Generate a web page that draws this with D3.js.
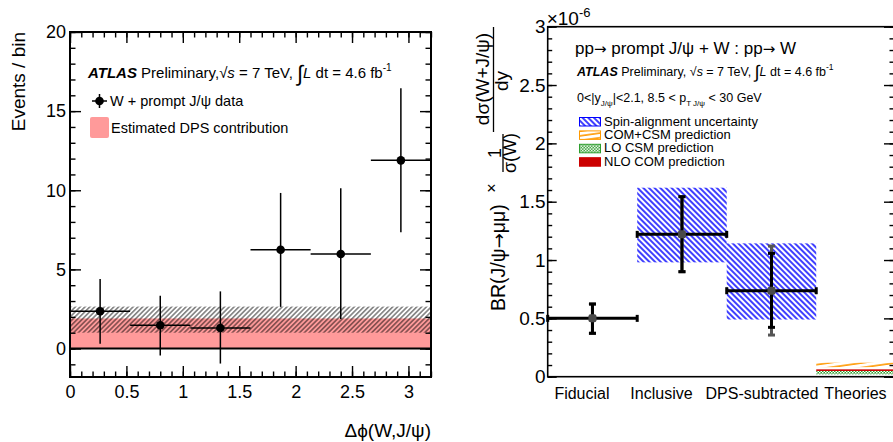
<!DOCTYPE html>
<html>
<head>
<meta charset="utf-8">
<script src="https://cdn.jsdelivr.net/npm/d3@7"></script>
<style>
  body { margin: 0; background: #fff; }
  text { font-family: "Liberation Sans", Arial, sans-serif; fill: #000; }
  .arr { font-family: "DejaVu Sans", sans-serif; }
</style>
</head>
<body>
<div id="chart"></div>
<script>
// ---- left panel: W + prompt J/psi events vs delta phi ----
var binLo = [0, 0.533, 1.067, 1.6, 2.133, 2.667];
var binHi = [0.533, 1.067, 1.6, 2.133, 2.667, 3.2];
var dphiCenters = [0.267, 0.8, 1.333, 1.867, 2.4, 2.933];
var events = [2.35, 1.47, 1.3, 6.24, 5.97, 11.89];
var eventsUp = [4.39, 3.34, 3.61, 9.83, 10.12, 16.45];
var eventsDown = [0.3, -0.44, -0.95, 2.63, 1.87, 7.35];
var dpsValue = 1.9;
var dpsBand = [1.0, 2.65];
var dphiTicks = [0, 0.5, 1, 1.5, 2, 2.5, 3];
var eventTicks = [0, 5, 10, 15, 20];

// ---- right panel: ratio of cross sections (x 1e-6) ----
var categories = ["Fiducial", "Inclusive", "DPS-subtracted", "Theories"];
var ratio = [0.5, 1.22, 0.737];
var statUp = [0.623, 1.543, 1.057];
var statDown = [0.372, 0.9, 0.423];
var totalUp = [0.623, 1.543, 1.12];
var totalDown = [0.372, 0.9, 0.357];
var spinUp = [null, 1.62, 1.143];
var spinDown = [null, 0.98, 0.49];
var comCsmBand = [0.082, 0.12];
var loCsmBand = [0.02, 0.049];
var nloComBand = [0.049, 0.063];
var ratioTicks = [0, 0.5, 1, 1.5, 2, 2.5, 3];

// small horizontal nudges of the category labels (px)
var labelDx = [-11, -21, -10, -6];

var W = 893, H = 442;
var svg = d3.select("#chart").append("svg")
    .attr("width", W)
    .attr("height", H);

var defs = svg.append("defs");

function hatch(id, color, size, angle, width) {
  var p = defs.append("pattern")
      .attr("id", id)
      .attr("patternUnits", "userSpaceOnUse")
      .attr("width", size)
      .attr("height", size)
      .attr("patternTransform", "rotate(" + angle + ")");
  p.append("line")
      .attr("x1", size / 2).attr("y1", 0)
      .attr("x2", size / 2).attr("y2", size)
      .attr("stroke", color)
      .attr("stroke-width", width);
}
hatch("blackHatch", "#000", 3.4, 45, 0.8);
hatch("blueHatch", "#0000ff", 4, -45, 1.5);

// orange shallow slanted lines
var orangeP = defs.append("pattern")
    .attr("id", "orangeHatch")
    .attr("patternUnits", "userSpaceOnUse")
    .attr("width", 12)
    .attr("height", 4.6)
    .attr("patternTransform", "rotate(-8)");
orangeP.append("line")
    .attr("x1", 0).attr("y1", 1).attr("x2", 12).attr("y2", 1)
    .attr("stroke", "#ff9900")
    .attr("stroke-width", 1.6);

// green crosshatch
var greenP = defs.append("pattern")
    .attr("id", "greenCross")
    .attr("patternUnits", "userSpaceOnUse")
    .attr("width", 3)
    .attr("height", 3);
greenP.append("rect").attr("width", 3).attr("height", 3).attr("fill", "#2e9e2e");
greenP.append("rect").attr("x", 0).attr("y", 0).attr("width", 1.5).attr("height", 1.5).attr("fill", "#fff");
greenP.append("rect").attr("x", 1.5).attr("y", 1.5).attr("width", 1.5).attr("height", 1.5).attr("fill", "#fff");

// ================= LEFT PANEL =================
var x1 = d3.scaleLinear().domain([0, 3.2]).range([70, 431]);
var y1 = d3.scaleLinear().domain([-1.8, 20]).range([377, 32]);

var left = svg.append("g");

// DPS pink band
left.append("rect")
    .attr("x", x1(0))
    .attr("y", y1(dpsValue))
    .attr("width", x1(3.2) - x1(0))
    .attr("height", y1(0) - y1(dpsValue))
    .attr("fill", "#ff9a9a");

// DPS uncertainty hatch
left.append("rect")
    .attr("x", x1(0))
    .attr("y", y1(dpsBand[1]))
    .attr("width", x1(3.2) - x1(0))
    .attr("height", y1(dpsBand[0]) - y1(dpsBand[1]))
    .attr("fill", "url(#blackHatch)");

// zero line
left.append("line")
    .attr("x1", x1(0)).attr("x2", x1(3.2))
    .attr("y1", y1(0)).attr("y2", y1(0))
    .attr("stroke", "#000")
    .attr("stroke-width", 2);

// data points
var pts = d3.range(events.length);
left.selectAll(".hbar").data(pts).enter().append("line")
    .attr("x1", function(i) { return x1(binLo[i]); })
    .attr("x2", function(i) { return x1(binHi[i]); })
    .attr("y1", function(i) { return y1(events[i]); })
    .attr("y2", function(i) { return y1(events[i]); })
    .attr("stroke", "#000").attr("stroke-width", 1.5);
left.selectAll(".vbar").data(pts).enter().append("line")
    .attr("x1", function(i) { return x1(dphiCenters[i]); })
    .attr("x2", function(i) { return x1(dphiCenters[i]); })
    .attr("y1", function(i) { return y1(eventsUp[i]); })
    .attr("y2", function(i) { return y1(eventsDown[i]); })
    .attr("stroke", "#000").attr("stroke-width", 1.5);
left.selectAll(".dot").data(pts).enter().append("circle")
    .attr("cx", function(i) { return x1(dphiCenters[i]); })
    .attr("cy", function(i) { return y1(events[i]); })
    .attr("r", 4.3)
    .attr("fill", "#000");

// axes
function styleAxis(g) {
  g.select(".domain").remove();
  g.selectAll(".tick line").attr("stroke-width", 1.4);
}
left.append("g")
    .attr("transform", "translate(0," + y1(-1.8) + ")")
    .call(d3.axisBottom(x1).tickValues(dphiTicks).tickSize(-11).tickPadding(8).tickFormat(d3.format("")))
    .call(styleAxis)
    .selectAll("text").style("font-size", "18px");
left.append("g")
    .attr("transform", "translate(0," + y1(-1.8) + ")")
    .call(d3.axisBottom(x1).tickValues(d3.range(0, 3.21, 0.1)).tickSize(-5.5).tickFormat(""))
    .call(styleAxis);
left.append("g")
    .attr("transform", "translate(0," + y1(20) + ")")
    .call(d3.axisTop(x1).tickValues(dphiTicks).tickSize(-11).tickFormat(""))
    .call(styleAxis);
left.append("g")
    .attr("transform", "translate(0," + y1(20) + ")")
    .call(d3.axisTop(x1).tickValues(d3.range(0, 3.21, 0.1)).tickSize(-5.5).tickFormat(""))
    .call(styleAxis);
left.append("g")
    .attr("transform", "translate(" + x1(0) + ",0)")
    .call(d3.axisLeft(y1).tickValues(eventTicks).tickSize(-11).tickPadding(4))
    .call(styleAxis)
    .selectAll("text").style("font-size", "18px");
left.append("g")
    .attr("transform", "translate(" + x1(0) + ",0)")
    .call(d3.axisLeft(y1).tickValues(d3.range(-1, 20.5, 1)).tickSize(-5.5).tickFormat(""))
    .call(styleAxis);
left.append("g")
    .attr("transform", "translate(" + x1(3.2) + ",0)")
    .call(d3.axisRight(y1).tickValues(eventTicks).tickSize(-11).tickFormat(""))
    .call(styleAxis);
left.append("g")
    .attr("transform", "translate(" + x1(3.2) + ",0)")
    .call(d3.axisRight(y1).tickValues(d3.range(-1, 20.5, 1)).tickSize(-5.5).tickFormat(""))
    .call(styleAxis);

// frame
left.append("rect")
    .attr("x", x1(0)).attr("y", y1(20))
    .attr("width", x1(3.2) - x1(0))
    .attr("height", y1(-1.8) - y1(20))
    .attr("fill", "none")
    .attr("stroke", "#000")
    .attr("stroke-width", 2);

// titles
left.append("text")
    .attr("transform", "translate(25," + y1(20) + ") rotate(-90)")
    .attr("text-anchor", "end")
    .style("font-size", "19px")
    .text("Events / bin");
left.append("text")
    .attr("x", x1(3.2))
    .attr("y", 437)
    .attr("text-anchor", "end")
    .style("font-size", "19px")
    .text("Δϕ(W,J/ψ)");

// ATLAS label
var atl = left.append("text").attr("x", 88).attr("y", 78).style("font-size", "15px");
atl.append("tspan").style("font-weight", "bold").style("font-style", "italic").text("ATLAS");
atl.append("tspan").text(" Preliminary,√");
atl.append("tspan").style("font-style", "italic").text("s");
atl.append("tspan").text(" = 7 TeV, ");
atl.append("tspan").style("font-size", "22px").attr("dy", 3).text("∫");
atl.append("tspan").style("font-style", "italic").attr("dy", -3).text("L");
atl.append("tspan").text(" dt = 4.6 fb");
atl.append("tspan").style("font-size", "10px").attr("dy", -7).text("-1");

// legend
var leg = left.append("g");
leg.append("line").attr("x1", 92).attr("x2", 107).attr("y1", 101).attr("y2", 101).attr("stroke", "#000").attr("stroke-width", 1.5);
leg.append("line").attr("x1", 99.5).attr("x2", 99.5).attr("y1", 94).attr("y2", 108).attr("stroke", "#000").attr("stroke-width", 1.5);
leg.append("circle").attr("cx", 99.5).attr("cy", 101).attr("r", 4.3).attr("fill", "#000");
leg.append("text").attr("x", 110).attr("y", 106).style("font-size", "14.5px").text("W + prompt J/ψ data");
leg.append("rect").attr("x", 90).attr("y", 117).attr("width", 19).attr("height", 21).attr("rx", 2).attr("fill", "#ff9a9a");
leg.append("text").attr("x", 111).attr("y", 133).style("font-size", "14.5px").text("Estimated DPS contribution");

// ================= RIGHT PANEL =================
var x2 = d3.scaleLinear().domain([0, 3.88]).range([547.7, 895]);
var y2 = d3.scaleLinear().domain([0, 3]).range([376.7, 26.7]);

var right = svg.append("g");

// theory bands in the last bin
var tb = right.append("g");
function band(lohi, fill) {
  tb.append("rect")
      .attr("x", x2(3)).attr("y", y2(lohi[1]))
      .attr("width", x2(4) - x2(3))
      .attr("height", y2(lohi[0]) - y2(lohi[1]))
      .attr("fill", fill);
}
band(comCsmBand, "url(#orangeHatch)");
band(loCsmBand, "url(#greenCross)");
band(nloComBand, "#cc0000");

// spin-alignment boxes
var meas = d3.range(ratio.length);
right.selectAll(".spin").data(meas.filter(function(i) { return spinUp[i] !== null; }))
  .enter().append("rect")
    .attr("x", function(i) { return x2(i); })
    .attr("y", function(i) { return y2(spinUp[i]); })
    .attr("width", function(i) { return x2(i + 1) - x2(i); })
    .attr("height", function(i) { return y2(spinDown[i]) - y2(spinUp[i]); })
    .attr("fill", "url(#blueHatch)");

// total (grey) error
right.selectAll(".tot").data(meas).enter().append("line")
    .attr("x1", function(i) { return x2(i + 0.5); })
    .attr("x2", function(i) { return x2(i + 0.5); })
    .attr("y1", function(i) { return y2(totalUp[i]); })
    .attr("y2", function(i) { return y2(totalDown[i]); })
    .attr("stroke", "#555").attr("stroke-width", 3);
meas.forEach(function(i) {
  [totalUp[i], totalDown[i]].forEach(function(v) {
    right.append("line")
        .attr("x1", x2(i + 0.5) - 3.5).attr("x2", x2(i + 0.5) + 3.5)
        .attr("y1", y2(v)).attr("y2", y2(v))
        .attr("stroke", "#555").attr("stroke-width", 3);
  });
});

// stat error + bin width
right.selectAll(".stat").data(meas).enter().append("line")
    .attr("x1", function(i) { return x2(i + 0.5); })
    .attr("x2", function(i) { return x2(i + 0.5); })
    .attr("y1", function(i) { return y2(statUp[i]); })
    .attr("y2", function(i) { return y2(statDown[i]); })
    .attr("stroke", "#000").attr("stroke-width", 3);
right.selectAll(".hw").data(meas).enter().append("line")
    .attr("x1", function(i) { return x2(i); })
    .attr("x2", function(i) { return x2(i + 1); })
    .attr("y1", function(i) { return y2(ratio[i]); })
    .attr("y2", function(i) { return y2(ratio[i]); })
    .attr("stroke", "#000").attr("stroke-width", 3);
meas.forEach(function(i) {
  [statUp[i], statDown[i]].forEach(function(v) {
    right.append("line")
        .attr("x1", x2(i + 0.5) - 3.5).attr("x2", x2(i + 0.5) + 3.5)
        .attr("y1", y2(v)).attr("y2", y2(v))
        .attr("stroke", "#000").attr("stroke-width", 3);
  });
  [i, i + 1].forEach(function(e) {
    right.append("line")
        .attr("x1", x2(e)).attr("x2", x2(e))
        .attr("y1", y2(ratio[i]) - 3.5).attr("y2", y2(ratio[i]) + 3.5)
        .attr("stroke", "#000").attr("stroke-width", 3);
  });
});
right.selectAll(".mk").data(meas).enter().append("rect")
    .attr("x", function(i) { return x2(i + 0.5) - 4; })
    .attr("y", function(i) { return y2(ratio[i]) - 4; })
    .attr("width", 8).attr("height", 8).attr("rx", 2)
    .attr("fill", "#4a4a4a");

// axes
right.append("g")
    .attr("transform", "translate(" + x2(0) + ",0)")
    .call(d3.axisLeft(y2).tickValues(ratioTicks).tickSize(-9).tickPadding(2).tickFormat(d3.format("")))
    .call(styleAxis)
    .selectAll("text").style("font-size", "19px");
right.append("g")
    .attr("transform", "translate(" + x2(0) + ",0)")
    .call(d3.axisLeft(y2).tickValues(d3.range(0, 3.01, 0.1)).tickSize(-4.5).tickFormat(""))
    .call(styleAxis);
right.append("g")
    .attr("transform", "translate(" + x2(3.88) + ",0)")
    .call(d3.axisRight(y2).tickValues(ratioTicks).tickSize(-11).tickFormat(""))
    .call(styleAxis);
right.append("g")
    .attr("transform", "translate(" + x2(3.88) + ",0)")
    .call(d3.axisRight(y2).tickValues(d3.range(0, 3.01, 0.1)).tickSize(-5.5).tickFormat(""))
    .call(styleAxis);
right.append("g")
    .attr("transform", "translate(0," + y2(0) + ")")
    .call(d3.axisBottom(x2).tickValues([0.5, 1.5, 2.5, 3.5]).tickSize(0).tickPadding(11)
      .tickFormat(function(d, i) { return categories[i]; }))
    .call(styleAxis)
    .selectAll("text")
      .attr("dx", function(d, i) { return labelDx[i]; })
      .style("font-size", "16px");

right.append("rect")
    .attr("x", x2(0)).attr("y", y2(3))
    .attr("width", x2(3.88) - x2(0))
    .attr("height", y2(0) - y2(3))
    .attr("fill", "none")
    .attr("stroke", "#000")
    .attr("stroke-width", 1.6);

// exponent label
var ex = right.append("text").attr("x", x2(0) - 1).attr("y", 25).style("font-size", "19px");
ex.append("tspan").text("×10");
ex.append("tspan").attr("dy", -8).style("font-size", "13px").text("-6");

// y title (rotated pieces)
var yt = right.append("g").attr("transform", "rotate(-90)");
var br = yt.append("text").attr("x", -311).attr("y", 505).style("font-size", "19.5px");
br.append("tspan").text("BR(J/ψ");
br.append("tspan").attr("class", "arr").style("font-size", "18px").text("→");
br.append("tspan").text("μμ)");
yt.append("text").attr("x", -188).attr("y", 497).attr("text-anchor", "middle").style("font-size", "16px").text("×");
yt.append("text").attr("x", -153).attr("y", 501).attr("text-anchor", "middle").style("font-size", "18px").text("1");
yt.append("line").attr("x1", -172).attr("x2", -134).attr("y1", 503).attr("y2", 503).attr("stroke", "#000").attr("stroke-width", 1.3);
yt.append("text").attr("x", -153).attr("y", 516).attr("text-anchor", "middle").style("font-size", "18px").text("σ(W)");
yt.append("text").attr("x", -79).attr("y", 489).attr("text-anchor", "middle").style("font-size", "19px").text("dσ(W+J/ψ)");
yt.append("line").attr("x1", -132).attr("x2", -27).attr("y1", 493.5).attr("y2", 493.5).attr("stroke", "#000").attr("stroke-width", 1.3);
yt.append("text").attr("x", -81).attr("y", 508).attr("text-anchor", "middle").style("font-size", "19px").text("dy");

// legend texts
var head = right.append("text").attr("x", 575).attr("y", 54).style("font-size", "17px");
head.append("tspan").text("pp");
head.append("tspan").attr("class", "arr").style("font-size", "15px").text("→");
head.append("tspan").text(" prompt J/ψ + W : pp");
head.append("tspan").attr("class", "arr").style("font-size", "15px").text("→");
head.append("tspan").text(" W");

var atl2 = right.append("text").attr("x", 577).attr("y", 76).style("font-size", "12.5px");
atl2.append("tspan").style("font-weight", "bold").style("font-style", "italic").text("ATLAS");
atl2.append("tspan").text(" Preliminary, √");
atl2.append("tspan").style("font-style", "italic").text("s");
atl2.append("tspan").text(" = 7 TeV, ");
atl2.append("tspan").style("font-size", "18px").attr("dy", 2).text("∫");
atl2.append("tspan").style("font-style", "italic").attr("dy", -2).text("L");
atl2.append("tspan").text(" dt = 4.6 fb");
atl2.append("tspan").style("font-size", "8.5px").attr("dy", -6).text("-1");

var kin = right.append("text").attr("x", 577).attr("y", 102).style("font-size", "12.5px");
kin.append("tspan").text("0<|y");
kin.append("tspan").attr("dy", 4).style("font-size", "8px").text("J/ψ");
kin.append("tspan").attr("dy", -4).text("|<2.1, 8.5 < p");
kin.append("tspan").attr("dy", 4).style("font-size", "8px").text("T  J/ψ");
kin.append("tspan").attr("dy", -4).text("  < 30 GeV");

var legItems = [
  {label: "Spin-alignment uncertainty", fill: "url(#blueHatch)", stroke: "#0000ff"},
  {label: "COM+CSM prediction", fill: "url(#orangeHatch)", stroke: "#ff9900"},
  {label: "LO CSM prediction", fill: "url(#greenCross)", stroke: "#2e9e2e"},
  {label: "NLO COM prediction", fill: "#cc0000", stroke: "#cc0000"}
];
var lg = right.selectAll(".leg2").data(legItems).enter().append("g")
    .attr("transform", function(d, i) { return "translate(579," + (117 + i * 13.4) + ")"; });
lg.append("rect")
    .attr("x", 0.5).attr("y", 0.5).attr("width", 21).attr("height", 8.5)
    .attr("fill", function(d) { return d.fill; })
    .attr("stroke", function(d) { return d.stroke; })
    .attr("stroke-width", 1);
lg.append("text")
    .attr("x", 25).attr("y", 8.5)
    .style("font-size", "13px")
    .text(function(d) { return d.label; });
</script>
</body>
</html>
